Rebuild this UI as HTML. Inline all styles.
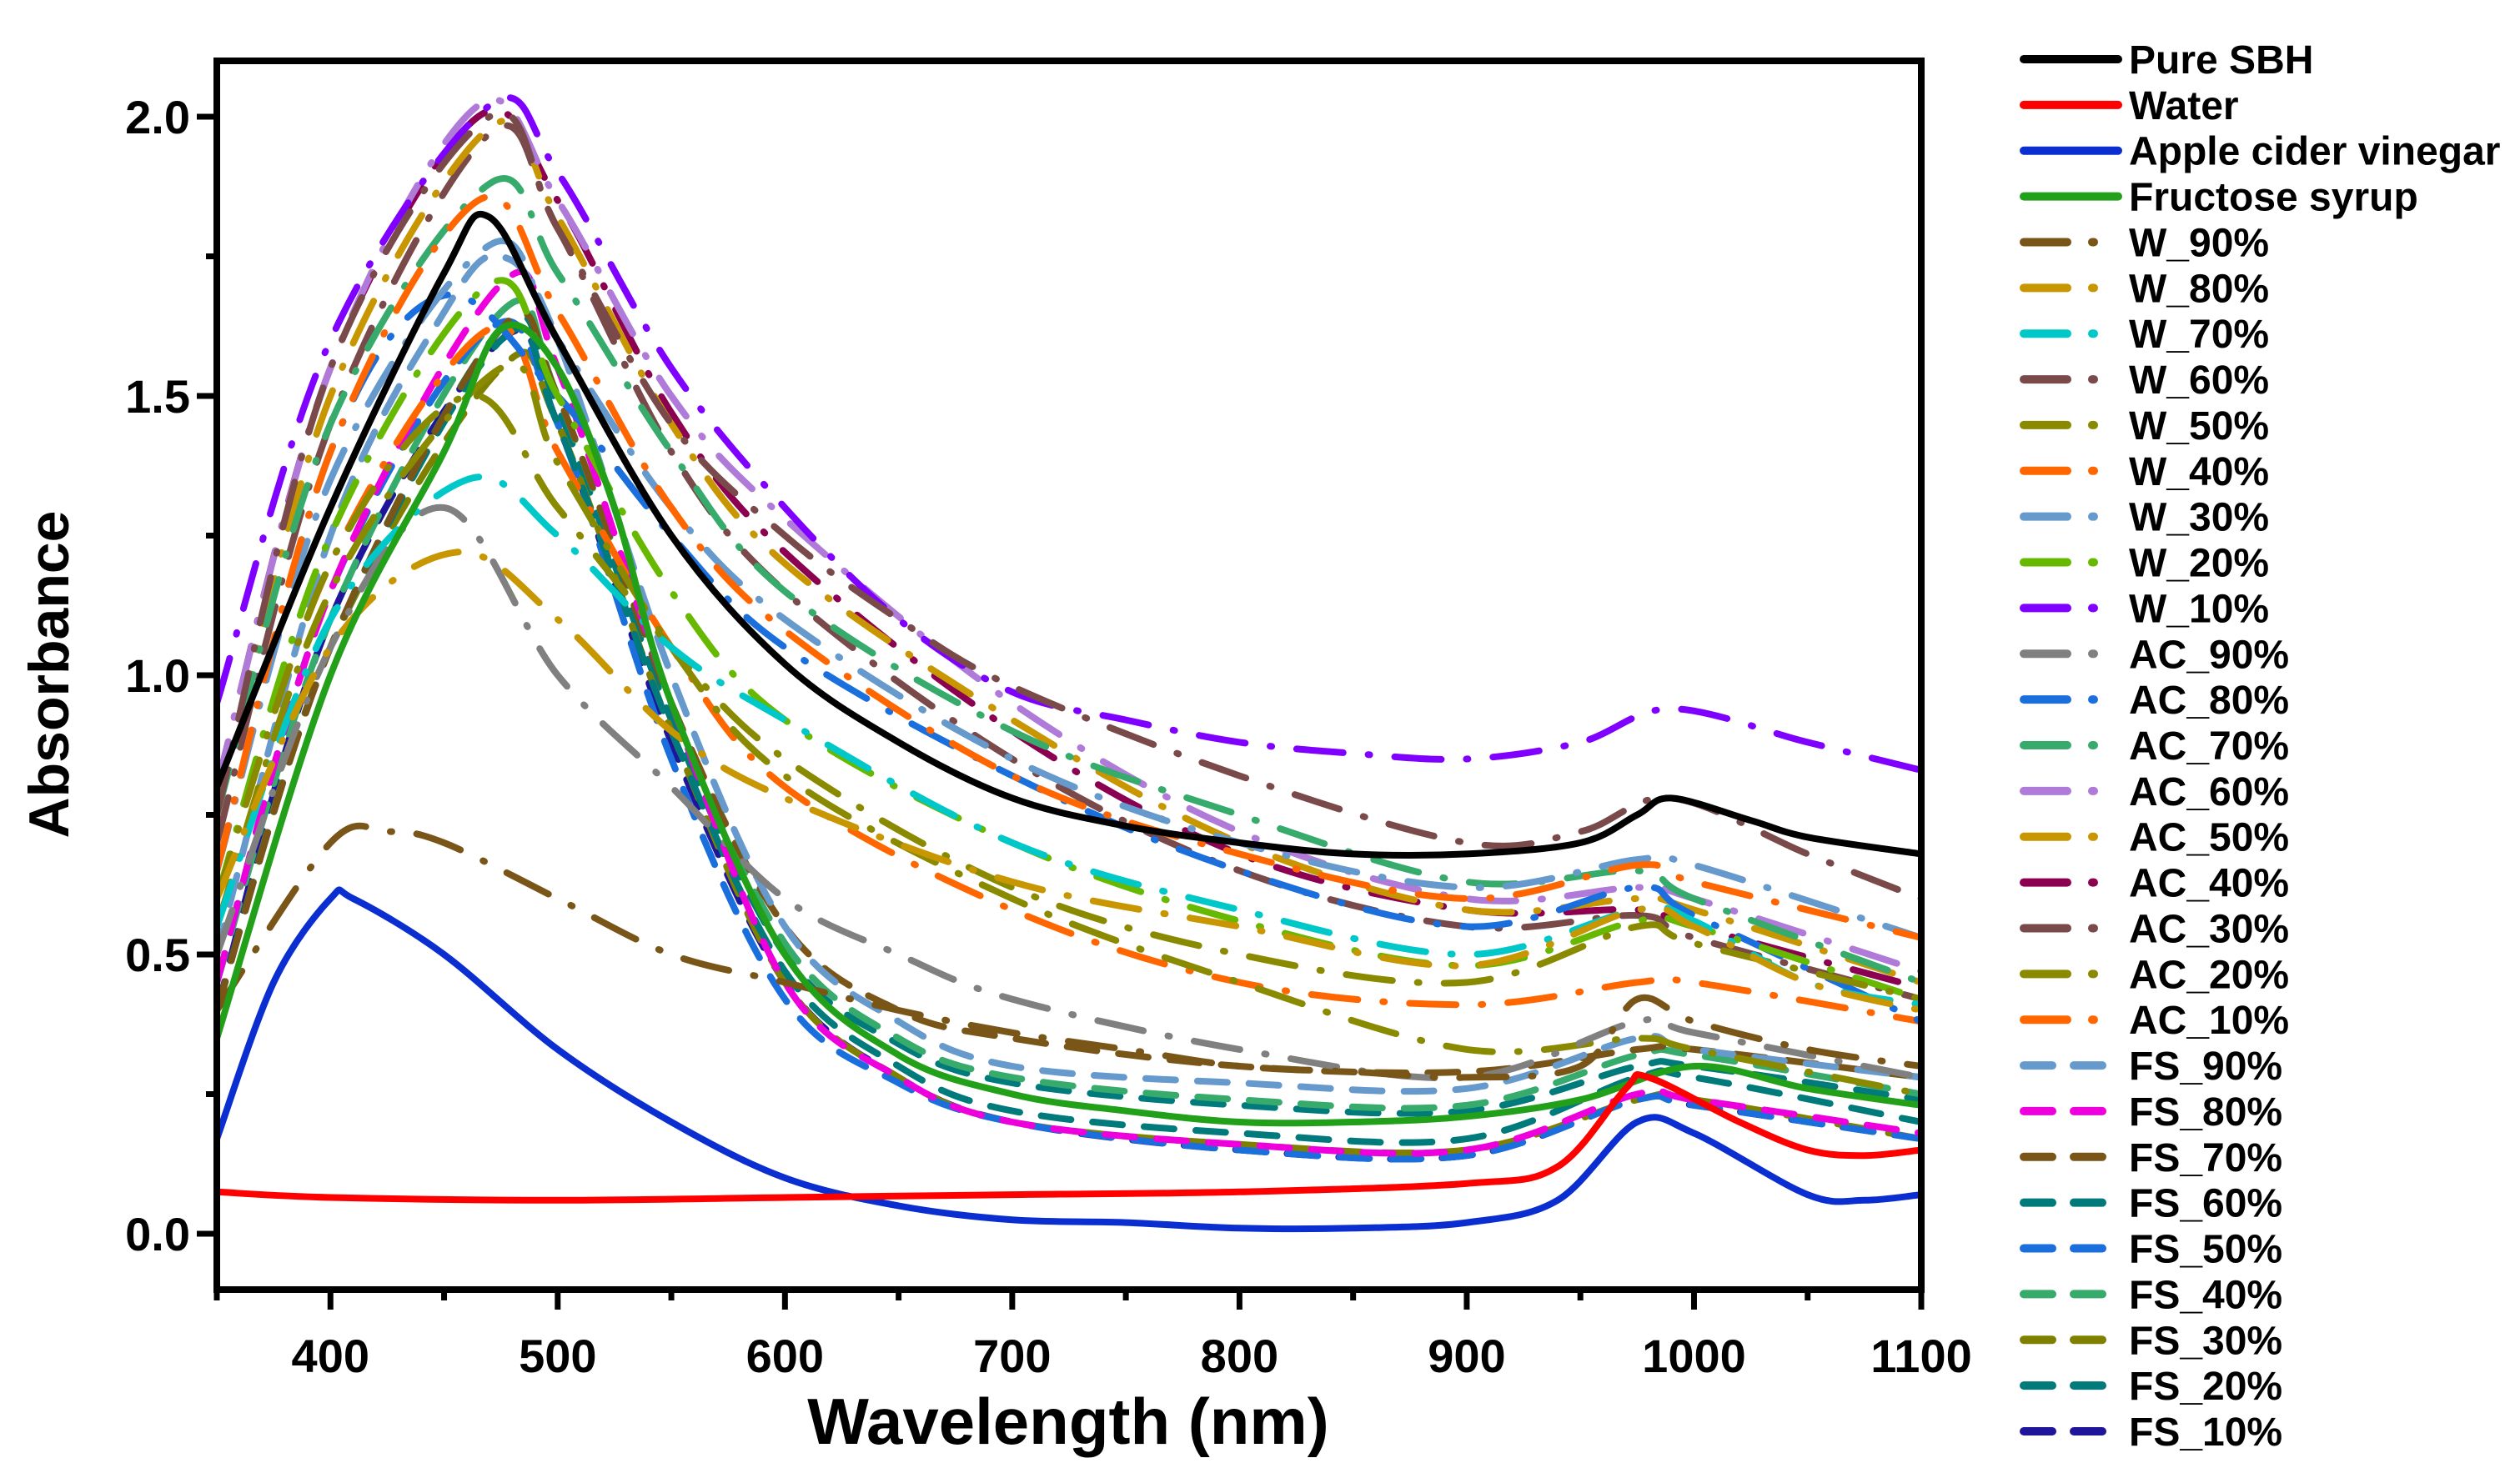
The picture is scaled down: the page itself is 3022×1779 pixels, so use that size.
<!DOCTYPE html>
<html><head><meta charset="utf-8"><style>
html,body{margin:0;padding:0;background:#fff;}
svg{display:block;font-family:"Liberation Sans",Arial,sans-serif;font-weight:bold;}
</style></head><body>
<svg id="chart" width="3022" height="1779" viewBox="0 0 3022 1779" xmlns="http://www.w3.org/2000/svg">
<defs><clipPath id="clip"><rect x="260" y="76" width="2044" height="1468"/></clipPath></defs>
<g id="series" clip-path="url(#clip)"></g>
<g id="axes"></g>
<g id="legend"></g>
</svg>
<script>
const xTicks=[400,500,600,700,800,900,1000,1100];
const xMinor=[350,450,550,650,750,850,950,1050];
const yTicks=[0.0,0.5,1.0,1.5,2.0];
const yMinor=[0.25,0.75,1.25,1.75];
const seriesNames=["Pure SBH","Water","Apple cider vinegar","Fructose syrup","W_90%","W_80%","W_70%","W_60%","W_50%","W_40%","W_30%","W_20%","W_10%","AC_90%","AC_80%","AC_70%","AC_60%","AC_50%","AC_40%","AC_30%","AC_20%","AC_10%","FS_90%","FS_80%","FS_70%","FS_60%","FS_50%","FS_40%","FS_30%","FS_20%","FS_10%"];
const seriesColors=["#000000","#ff0000","#0a2ed0","#22a01a","#7a5518","#c89600","#00c8c8","#7a4a4a","#8a8a00","#ff6600","#6699cc","#66b800","#8000ff","#808080","#1a6fdc","#36ab6c","#b07ad8","#c89600","#8b0050","#7a4a4a","#8a8a00","#ff6600","#6699cc","#ee00dd","#7a5518","#007a7a","#1a6fdc","#36ab6c","#808000","#007a7a","#1f159a"];
const seriesStyle=["solid","solid","solid","solid","dashdot","dashdot","dashdot","dashdot","dashdot","dashdot","dashdot","dashdot","dashdot","dashdot","dashdot","dashdot","dashdot","dashdot","dashdot","dashdot","dashdot","dashdot","dash","dash","dash","dash","dash","dash","dash","dash","dash"];
const seriesWL=[
[350,400,450,470,500,550,600,650,700,750,800,850,900,950,975,990,1025,1050,1100],
[350,400,500,600,700,800,900,940,970,980,1020,1050,1075,1100],
[350,375,400,410,450,500,550,600,650,700,750,800,850,900,940,975,1000,1050,1075,1100],
[350,400,450,475,500,525,550,600,650,700,750,800,850,900,950,1000,1050,1100],
[350,400,425,450,500,550,600,650,700,750,800,850,900,950,975,1000,1050,1100],
[350,400,455,500,550,600,700,800,900,975,1000,1050,1100],
[350,400,460,500,550,600,700,800,900,975,1000,1050,1100],
[350,400,470,500,550,600,650,700,800,900,950,990,1050,1100],
[350,400,460,500,550,600,700,800,900,975,1000,1100],
[350,400,465,500,550,600,700,800,900,975,1000,1100],
[350,400,470,500,550,600,700,800,900,975,1000,1100],
[350,400,470,500,550,600,700,800,900,975,1000,1100],
[350,400,470,500,550,600,650,700,750,800,850,900,950,990,1050,1100],
[350,400,450,500,550,600,650,700,800,900,975,1000,1100],
[350,400,450,500,550,600,700,800,900,975,1000,1100],
[350,400,470,500,550,600,700,800,900,975,1000,1100],
[350,400,465,500,550,600,700,800,900,975,1000,1100],
[350,400,470,500,550,600,700,800,900,975,1000,1100],
[350,400,465,500,550,600,700,800,900,975,1000,1100],
[350,400,470,500,550,600,700,800,900,975,1000,1100],
[350,400,475,500,550,600,700,800,900,975,1000,1100],
[350,400,470,500,550,600,700,800,900,975,1000,1100],
[350,400,450,475,500,550,600,650,700,800,900,975,1000,1100],
[350,400,475,500,550,600,650,700,800,900,975,1000,1100],
[350,400,475,500,550,600,650,700,800,900,975,1000,1100],
[350,400,475,500,550,600,650,700,800,900,975,1000,1100],
[350,400,470,500,550,600,650,700,800,900,975,1000,1100],
[350,400,475,500,550,600,650,700,800,900,975,1000,1100],
[350,400,475,500,550,600,650,700,800,900,975,1000,1100],
[350,400,475,500,550,600,650,700,800,900,975,1000,1100],
[350,400,475,500,550,600,650,700,800,900,975,1000,1100]];
const seriesAbs=[
[0.8,1.3,1.72,1.82,1.6,1.25,1.02,0.88,0.78,0.73,0.7,0.68,0.68,0.7,0.75,0.78,0.74,0.71,0.68],
[0.075,0.065,0.06,0.065,0.07,0.075,0.09,0.12,0.26,0.28,0.2,0.15,0.14,0.15],
[0.17,0.45,0.6,0.6,0.5,0.33,0.2,0.1,0.05,0.025,0.02,0.01,0.01,0.02,0.06,0.2,0.18,0.07,0.06,0.07],
[0.35,1.0,1.4,1.62,1.55,1.3,0.95,0.5,0.32,0.25,0.22,0.2,0.2,0.21,0.24,0.3,0.26,0.23],
[0.4,0.7,0.72,0.7,0.6,0.5,0.45,0.4,0.36,0.33,0.3,0.29,0.28,0.3,0.42,0.38,0.33,0.3],
[0.6,1.05,1.22,1.1,0.9,0.78,0.63,0.55,0.48,0.58,0.55,0.45,0.4],
[0.55,1.1,1.35,1.25,1.05,0.92,0.7,0.58,0.5,0.58,0.56,0.45,0.41],
[0.75,1.55,2.0,1.8,1.45,1.25,1.1,0.98,0.82,0.7,0.72,0.78,0.68,0.6],
[0.6,1.2,1.5,1.3,1.05,0.85,0.62,0.5,0.45,0.55,0.52,0.42],
[0.65,1.4,1.85,1.65,1.3,1.08,0.82,0.68,0.6,0.66,0.63,0.53],
[0.65,1.35,1.77,1.6,1.3,1.1,0.85,0.7,0.62,0.67,0.66,0.53],
[0.6,1.25,1.7,1.5,1.15,0.92,0.7,0.56,0.48,0.56,0.55,0.42],
[0.95,1.6,2.02,1.9,1.55,1.3,1.1,0.97,0.92,0.88,0.86,0.85,0.88,0.94,0.88,0.83],
[0.5,1.05,1.3,1.0,0.8,0.6,0.5,0.42,0.33,0.28,0.38,0.36,0.28],
[0.65,1.4,1.68,1.5,1.25,1.05,0.82,0.65,0.55,0.62,0.57,0.38],
[0.75,1.45,1.88,1.72,1.4,1.15,0.9,0.75,0.63,0.65,0.6,0.45],
[0.8,1.55,2.02,1.85,1.5,1.28,0.95,0.72,0.6,0.62,0.6,0.47],
[0.75,1.5,1.98,1.82,1.45,1.2,0.92,0.7,0.58,0.6,0.58,0.45],
[0.8,1.55,2.0,1.85,1.47,1.22,0.9,0.68,0.58,0.58,0.55,0.44],
[0.7,1.45,1.97,1.8,1.4,1.15,0.85,0.65,0.55,0.57,0.53,0.42],
[0.55,1.15,1.55,1.38,1.05,0.82,0.6,0.45,0.33,0.35,0.33,0.25],
[0.6,1.2,1.62,1.4,1.05,0.8,0.58,0.45,0.41,0.45,0.45,0.38],
[0.5,1.25,1.65,1.75,1.6,1.0,0.55,0.38,0.3,0.27,0.26,0.35,0.33,0.28],
[0.45,1.15,1.7,1.55,0.95,0.45,0.28,0.2,0.16,0.15,0.25,0.24,0.18],
[0.4,1.05,1.62,1.5,0.95,0.55,0.4,0.35,0.3,0.29,0.33,0.33,0.28],
[0.4,1.05,1.6,1.45,0.9,0.47,0.3,0.22,0.18,0.17,0.28,0.28,0.2],
[0.45,1.15,1.62,1.45,0.85,0.42,0.27,0.2,0.15,0.14,0.24,0.23,0.17],
[0.45,1.1,1.65,1.5,0.95,0.52,0.35,0.28,0.24,0.23,0.32,0.32,0.25],
[0.4,1.05,1.55,1.45,0.9,0.45,0.28,0.2,0.16,0.15,0.24,0.24,0.17],
[0.4,1.05,1.62,1.48,0.92,0.5,0.34,0.27,0.23,0.22,0.3,0.3,0.24],
[0.4,1.1,1.6,1.45,0.88,0.45,0.28,0.2,0.15,0.14,0.24,0.23,0.17]];

const X0=350,X1=1100,Y0=-0.1,Y1=2.1;
const PL=260,PR=2304,PT=73,PB=1547;
function xs(v){return PL+(v-X0)/(X1-X0)*(PR-PL);}
function ys(v){return PB-(v-Y0)/(Y1-Y0)*(PB-PT);}
const NS="http://www.w3.org/2000/svg";
function mk(tag,attrs,parent){const e=document.createElementNS(NS,tag);for(const k in attrs)e.setAttribute(k,attrs[k]);parent.appendChild(e);return e;}
function smoothPath(px,py){
  let d="M"+px[0].toFixed(1)+","+py[0].toFixed(1);
  for(let i=0;i<px.length-1;i++){
    const x0=px[Math.max(i-1,0)],y0=py[Math.max(i-1,0)],x1=px[i],y1=py[i],x2=px[i+1],y2=py[i+1],x3=px[Math.min(i+2,px.length-1)],y3=py[Math.min(i+2,px.length-1)];
    const c1x=x1+(x2-x0)/6,c1y=y1+(y2-y0)/6,c2x=x2-(x3-x1)/6,c2y=y2-(y3-y1)/6;
    d+=" C"+c1x.toFixed(1)+","+c1y.toFixed(1)+" "+c2x.toFixed(1)+","+c2y.toFixed(1)+" "+x2.toFixed(1)+","+y2.toFixed(1);
  }
  return d;
}
const dashes={solid:"",dashdot:"56 30 2 30",dash:"36 26"};
const sg=document.getElementById("series");
for(let i=seriesNames.length-1;i>=0;i--){
  const px=seriesWL[i].map(xs),py=seriesAbs[i].map(ys);
  const p=mk("path",{d:smoothPath(px,py),fill:"none",stroke:seriesColors[i],"stroke-width":8,"stroke-linecap":"round","stroke-linejoin":"round"},sg);
  if(dashes[seriesStyle[i]])p.setAttribute("stroke-dasharray",dashes[seriesStyle[i]]);
  
  
}
const ax=document.getElementById("axes");
const frame=mk("rect",{x:PL,y:PT,width:PR-PL,height:PB-PT,fill:"none",stroke:"#000","stroke-width":8},ax);


xTicks.forEach(v=>{
  const t=mk("line",{x1:xs(v),x2:xs(v),y1:PB,y2:PB+24,stroke:"#000","stroke-width":7},ax);
  
  
  const l=mk("text",{x:xs(v),y:1646,"text-anchor":"middle","font-size":56},ax);l.textContent=String(v);
  
  
});
xMinor.forEach(v=>{
  const t=mk("line",{x1:xs(v),x2:xs(v),y1:PB,y2:PB+13,stroke:"#000","stroke-width":7},ax);
  
  
});
yTicks.forEach(v=>{
  const t=mk("line",{x1:PL-24,x2:PL,y1:ys(v),y2:ys(v),stroke:"#000","stroke-width":7},ax);
  
  
  const l=mk("text",{x:228,y:ys(v)+20,"text-anchor":"end","font-size":56},ax);l.textContent=v.toFixed(1);
  
  
});
yMinor.forEach(v=>{
  const t=mk("line",{x1:PL-13,x2:PL,y1:ys(v),y2:ys(v),stroke:"#000","stroke-width":7},ax);
  
  
});
const xt=mk("text",{x:1281,y:1732,"text-anchor":"middle","font-size":78},ax);xt.textContent="Wavelength (nm)";


const yt=mk("text",{x:0,y:0,"text-anchor":"middle","font-size":68,transform:"translate(82,809) rotate(-90)"},ax);yt.textContent="Absorbance";


const lg=document.getElementById("legend");
const legDash={solid:"",dashdot:"52 30 2 30",dash:"34 26"};
seriesNames.forEach((n,i)=>{
  const y=71+i*((1717-71)/(seriesNames.length-1));
  const g=mk("g",{},lg);
  
  
  const ln=mk("line",{x1:2427,x2:2540,y1:y,y2:y,stroke:seriesColors[i],"stroke-width":10,"stroke-linecap":"round"},g);
  if(legDash[seriesStyle[i]])ln.setAttribute("stroke-dasharray",legDash[seriesStyle[i]]);
  
  
  const t=mk("text",{x:2553,y:y+17,"font-size":48},g);t.textContent=n;
  
  
});
</script>
</body></html>
